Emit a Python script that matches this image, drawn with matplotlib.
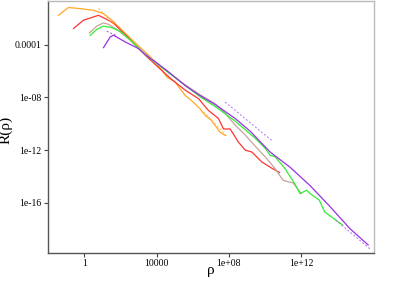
import numpy as np
import matplotlib
matplotlib.use('Agg')
import matplotlib.pyplot as plt

plt.rcParams['font.family'] = ['Liberation Serif', 'DejaVu Serif']

# values, as log10(rho) and log10(R)
orange_lx = [-1.42, -0.87, -0.22, 0.51, 1.07, 1.53, 2.2, 3.0, 3.6, 4.0, 4.3, 4.57, 5.03, 5.3,
             5.58, 5.9, 6.4, 6.69, 7.0, 7.24, 7.51, 7.8]
orange_ly = [-1.78, -1.19, -1.27, -1.4, -1.65, -2.15, -3.05, -4.1, -4.85, -5.44, -5.95, -6.46,
             -6.84, -7.35, -7.85, -8.2, -8.86, -9.37, -9.7, -10.13, -10.64, -10.9]

red_lx = [-0.59, -0.04, 0.79, 1.16, 1.6, 2.5, 3.37, 4.2, 4.8, 5.58, 6.32, 6.87, 7.42, 7.7,
          8.07, 8.53, 8.9, 9.27, 9.82, 10.4, 10.8]
red_ly = [-2.78, -2.15, -1.78, -2.03, -2.35, -3.55, -4.8, -5.85, -6.6, -7.45, -8.1, -9.0,
          -9.6, -10.4, -10.4, -11.4, -12.0, -12.15, -12.9, -13.4, -13.7]

rosy_lx = [0.29, 0.7, 1.05, 1.34, 1.8, 2.5, 3.37, 4.5, 5.58, 6.4, 7.24, 7.79, 8.34, 8.9,
           9.45, 10.0, 10.55, 11.0, 11.56, 12.0]
rosy_ly = [-3.12, -2.6, -2.36, -2.46, -2.85, -3.6, -4.75, -5.95, -7.05, -7.8, -8.48, -9.2,
           -10.1, -10.85, -11.7, -12.5, -13.4, -14.3, -14.5, -15.3]

green_lx = [0.33, 0.7, 1.05, 1.5, 2.0, 2.5, 3.37, 4.5, 5.58, 6.4, 7.3, 8.34, 9.45, 10.0,
            10.28, 10.55, 11.1, 11.66, 11.93, 12.3, 12.49, 13.0, 13.3, 14.3]
green_ly = [-3.3, -2.85, -2.6, -2.7, -3.0, -3.6, -4.75, -5.95, -7.1, -7.95, -8.75, -9.8,
            -11.1, -11.85, -12.4, -12.5, -13.4, -14.6, -15.3, -15.05, -15.3, -15.8, -16.7, -17.7]

purple_lx = [1.07, 1.44, 1.62, 2.27, 3.0, 3.65, 3.83, 4.6, 5.58, 6.4, 7.3, 8.34, 9.2, 10.28,
             11.38, 12.49, 13.6, 14.7, 15.7]
purple_ly = [-4.23, -3.42, -3.29, -3.8, -4.3, -5.06, -5.2, -6.0, -7.1, -7.86, -8.6, -9.6,
             -10.6, -12.15, -13.3, -14.7, -16.3, -17.97, -19.2]

# dashed fit segments
fits = [
    ([0.79, 1.62], [-1.27, -2.46], '#ffb84d'),
    ([6.6, 7.9], [-9.1, -10.95], '#ffb84d'),
    ([1.25, 1.75], [-2.99, -3.3], '#9b4fd6'),
    ([7.79, 10.37], [-8.36, -11.27], '#b070ee'),
    ([13.9, 15.8], [-17.3, -19.5], '#b070ee'),
]

xticks = [1, 1e4, 1e8, 1e12]
xticklabels = ['1', '10000', '1e+08', '1e+12']
yticks = [1e-4, 1e-8, 1e-12, 1e-16]
yticklabels = ['0.0001', '1e-08', '1e-12', '1e-16']

fig = plt.figure(figsize=(3.99, 2.82), dpi=100)
ax = fig.add_axes([0.1203, 0.1046, 0.816, 0.893])

curves = [
    (orange_lx, orange_ly, '#ffa726'),
    (red_lx, red_ly, '#ff3333'),
    (rosy_lx, rosy_ly, '#c9a39d'),
    (green_lx, green_ly, '#33ee33'),
    (purple_lx, purple_ly, '#9932e6'),
]
for lx, ly, c in curves:
    ax.plot(10.0 ** np.array(lx), 10.0 ** np.array(ly), color=c, lw=0.9)
for lx, ly, c in fits:
    ax.plot(10.0 ** np.array(lx), 10.0 ** np.array(ly), color=c, lw=0.7, ls=(0, (2, 2)))

ax.set_xscale('log')
ax.set_yscale('log')
ax.set_xlim(1e-2, 1e16)
ax.set_ylim(10 ** -19.77, 10 ** -0.67)
ax.set_xticks(xticks)
ax.set_xticklabels(xticklabels)
ax.set_yticks(yticks)
ax.set_yticklabels(yticklabels)
ax.minorticks_off()
ax.tick_params(labelsize=7, length=3, width=0.8, colors='#444444', labelcolor='black', pad=2)

for s in ['left', 'bottom']:
    ax.spines[s].set_color('#555555')
for s in ['top', 'right']:
    ax.spines[s].set_color('#bbbbbb')
for s in ax.spines.values():
    s.set_linewidth(1.0)

ax.set_xlabel('ρ', fontsize=11)
ax.set_ylabel('R(ρ)', fontsize=11)
ax.xaxis.set_label_coords(0.50, -0.045)
ax.yaxis.set_label_coords(-0.108, 0.486)

fig.savefig('out.png', dpi=100)
